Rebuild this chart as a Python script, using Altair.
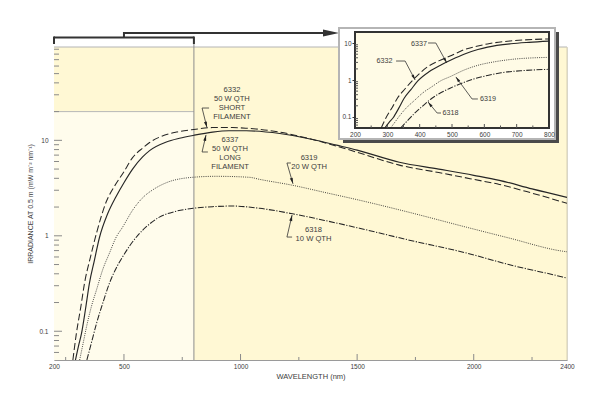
import altair as alt
import pandas as pd

# ---------------- data ----------------
nm_6332 = [281, 296, 315, 331, 355, 382, 425, 459, 500, 537, 580, 610, 660, 725, 800, 880, 966, 1025, 1168, 1309, 1412, 1500, 1681, 1850, 2000, 2110, 2250, 2400]
irr_6332 = [0.05, 0.095, 0.18, 0.32, 0.58, 1.06, 2.3, 3.3, 4.7, 6.6, 8.3, 9.5, 11.0, 12.2, 13.0, 13.6, 13.6, 13.4, 12.2, 10.2, 8.7, 7.5, 5.5, 4.6, 3.9, 3.45, 2.8, 2.19]

nm_6337 = [292, 305, 318, 335, 352, 373, 395, 430, 467, 500, 537, 580, 610, 682, 738, 800, 880, 950, 1025, 1168, 1309, 1412, 1500, 1681, 1850, 2000, 2110, 2250, 2400]
irr_6337 = [0.05, 0.07, 0.095, 0.17, 0.32, 0.55, 0.96, 1.7, 2.6, 3.6, 5.0, 6.7, 7.8, 9.6, 10.5, 11.3, 12.2, 12.6, 12.6, 11.8, 10.2, 8.9, 7.9, 5.9, 5.0, 4.3, 3.81, 3.1, 2.53]

nm_6319 = [310, 325, 339, 360, 382, 410, 438, 465, 494, 540, 580, 630, 682, 795, 896, 1038, 1082, 1224, 1360, 1510, 1724, 1969, 2150, 2381, 2400]
irr_6319 = [0.05, 0.075, 0.11, 0.18, 0.27, 0.45, 0.66, 0.95, 1.23, 1.9, 2.5, 3.1, 3.6, 4.1, 4.2, 4.1, 3.9, 3.38, 2.85, 2.36, 1.76, 1.23, 0.95, 0.69, 0.68]

nm_6318 = [341, 360, 382, 410, 438, 465, 494, 530, 567, 610, 652, 720, 796, 880, 967, 1082, 1223, 1360, 1510, 1724, 1969, 2150, 2381, 2400]
irr_6318 = [0.05, 0.075, 0.12, 0.2, 0.32, 0.45, 0.6, 0.82, 1.06, 1.33, 1.57, 1.8, 1.94, 2.02, 2.05, 1.94, 1.7, 1.45, 1.2, 0.9, 0.66, 0.5, 0.37, 0.36]

x_tick_labels = [200, 500, 1000, 1500, 2000, 2400]
x_major_ticks = [500, 1000, 1500, 2000]
x_minor_ticks = [250, 750, 1250, 1750, 2250]
y_tick_labels = [0.1, 1, 10]
y_major_ticks = [0.1, 1, 10]
y_minor_ticks = [0.06, 0.07, 0.08, 0.09, 0.2, 0.3, 0.4, 0.5, 0.6, 0.7, 0.8, 0.9,
                 2, 3, 4, 5, 6, 7, 8, 9, 20, 30, 40, 50, 60, 70, 80, 90]
y_domain = [0.05, 95]

inset_x_labels = [200, 300, 400, 500, 600, 700, 800]
inset_x_major = [300, 400, 500, 600, 700]
inset_x_minor = [250, 350, 450, 550, 650, 750]
inset_y_labels = [0.1, 1, 10]
inset_y_minor = [0.06, 0.07, 0.08, 0.09, 0.2, 0.3, 0.4, 0.5, 0.6, 0.7, 0.8, 0.9,
                 2, 3, 4, 5, 6, 7, 8, 9]

zoom_nm = [200, 800]
zoom_irr = [0.05, 20]

# main-plot annotations (data units)
main_text = ["6332", "50 W QTH", "SHORT", "FILAMENT",
             "6337", "50 W QTH", "LONG", "FILAMENT",
             "6319", "20 W QTH", "6318", "10 W QTH"]
main_text_nm = [963, 963, 963, 963, 955, 955, 955, 955, 1294, 1294, 1313, 1313]
main_text_irr = [33.7, 27.1, 21.8, 17.6, 10.1, 8.12, 6.53, 5.26, 6.53, 5.26, 1.15, 0.926]

main_lead_id = ["a", "a", "a", "b", "b", "b", "c", "c", "c", "d", "d", "d"]
main_lead_nm = [865, 835, 856, 860, 835, 852, 1216, 1199, 1225, 1221, 1199, 1221]
main_lead_irr = [21.8, 21.8, 13.6, 7.55, 7.55, 11.4, 5.79, 5.79, 3.5, 0.97, 0.97, 1.65]
main_tip_nm = [856, 852, 1225, 1221]
main_tip_irr = [13.6, 11.4, 3.5, 1.65]
main_tip_angle = [165, 13, 163, 13]

# inset annotations (inset data units)
inset_text = ["6337", "6332", "6319", "6318"]
inset_text_nm = [398, 291, 611, 495]
inset_text_irr = [9.46, 3.27, 0.306, 0.1275]
inset_lead_id = ["a", "a", "a", "b", "b", "b", "c", "c", "c", "d", "d", "d"]
inset_lead_nm = [426, 450, 484, 327, 355, 386, 580, 562, 512, 466, 454, 426]
inset_lead_irr = [10.07, 10.07, 2.89, 3.27, 3.27, 1.0, 0.306, 0.306, 1.21, 0.1275, 0.1275, 0.253]
inset_tip_nm = [484, 386, 512, 426]
inset_tip_irr = [2.89, 1.0, 1.21, 0.253]
inset_tip_angle = [151, 152, 324, 321]

# ---------------- styling ----------------
FONT = "Liberation Sans"
INK = "#262626"
TXT = "#3c3c3c"
W, H = 513, 313
ARROW = "M0,0L-0.5,2L0.5,2Z"
BIG_ARROW = "M0,0L-0.44,2L0.44,2Z"

series = [
    ("6332", nm_6332, irr_6332, [7, 3], 1.05),
    ("6337", nm_6337, irr_6337, None, 1.15),
    ("6319", nm_6319, irr_6319, [1, 1.2], 0.85),
    ("6318", nm_6318, irr_6318, [6, 1.5, 1.2, 1.5], 1.05),
]

xs = alt.Scale(domain=[200, 2400], nice=False, zero=False)
ys = alt.Scale(type="log", domain=y_domain, nice=False)
ax_x = alt.Axis(title="WAVELENGTH (nm)", values=x_tick_labels, format="d", ticks=False,
                domainColor="#9a9a9a", domainWidth=1, labelFontSize=6.5, labelColor=TXT,
                labelFont=FONT, labelPadding=3, labelFlush=False, titleFontSize=7.5,
                titleFont=FONT, titleFontWeight="normal", titleColor=TXT, titlePadding=3, grid=False)
ax_y = alt.Axis(title="IRRADIANCE AT 0.5 m (mW m\u207b\u00b2 nm\u207b\u00b9)", values=y_tick_labels,
                format="~g", ticks=False, domain=False, labelFontSize=6.5, labelColor=TXT,
                labelFont=FONT, labelPadding=6, titleFontSize=7, titleFont=FONT,
                titleFontWeight="normal", titleColor=TXT, titlePadding=5, grid=False)

xi = alt.Scale(domain=[200, 800], range=[301, 495], nice=False, zero=False)
yi = alt.Scale(type="log", domain=[0.05, 20], range=[81, -15], nice=False)
ax_xi = alt.Axis(orient="bottom", offset=-232, values=inset_x_labels, format="d", ticks=False,
                 domain=False, labelFontSize=6.5, labelColor=TXT, labelFont=FONT, labelPadding=3,
                 labelFlush=False, title=None, zindex=1, grid=False)
ax_yi = alt.Axis(orient="left", offset=-301, values=inset_y_labels, format="~g", ticks=True,
                 tickSize=3, tickColor="#333333", domain=False, labelFontSize=6.5, labelColor=TXT,
                 labelFont=FONT, labelPadding=1, title=None, zindex=1, grid=False)

dummy = pd.DataFrame({"k": [0]})


def X(scale, axis, field="nm"):
    return alt.X(f"{field}:Q", scale=scale, axis=axis)


def Y(scale, axis, field="irr"):
    return alt.Y(f"{field}:Q", scale=scale, axis=axis)


def pix_rect(x, x2, y, y2, **kw):
    return alt.Chart(dummy).mark_rect(**kw).encode(
        x=alt.value(x), x2=alt.value(x2), y=alt.value(y), y2=alt.value(y2))


# ---------------- main plot ----------------
main_parts = []

full_df = pd.DataFrame({"nm": [x_tick_labels[0]], "nm2": [x_tick_labels[-1]],
                        "irr": [y_domain[0]], "irr2": [y_domain[1]]})
main_parts.append(alt.Chart(full_df).mark_rect(color="#fff8d4").encode(
    x=X(xs, ax_x), x2="nm2:Q", y=Y(ys, ax_y), y2="irr2:Q"))

zoom_df = pd.DataFrame({"nm": [zoom_nm[0]], "nm2": [zoom_nm[1]], "irr": [zoom_irr[0]], "irr2": [zoom_irr[1]]})
main_parts.append(alt.Chart(zoom_df).mark_rect(color="#fffcec").encode(
    x=X(xs, ax_x), x2="nm2:Q", y=Y(ys, ax_y), y2="irr2:Q"))
# top line of zoom region
main_parts.append(alt.Chart(zoom_df).mark_rule(color="#b8b8b8", strokeWidth=1).encode(
    x=X(xs, ax_x), x2="nm2:Q", y=Y(ys, ax_y, "irr2")))
# plot top and right border
main_parts.append(alt.Chart(full_df).mark_rule(color="#b4b4b4", strokeWidth=1).encode(
    x=X(xs, ax_x), x2="nm2:Q", y=alt.value(0)))
main_parts.append(alt.Chart(full_df).mark_rule(color="#d6d0b4", strokeWidth=1).encode(
    x=X(xs, ax_x, "nm2"), y=alt.value(0), y2=alt.value(H)))
# vertical line at the zoom limit
z800 = pd.DataFrame({"nm": [zoom_nm[1]]})
main_parts.append(alt.Chart(z800).mark_rule(color="#8c8c8c", strokeWidth=1).encode(
    x=X(xs, ax_x), y=alt.value(-9.5), y2=alt.value(H)))

# ticks
main_parts.append(alt.Chart(pd.DataFrame({"nm": x_major_ticks})).mark_rule(color="#8a8a8a").encode(
    x=X(xs, ax_x), y=alt.value(H), y2=alt.value(H - 6)))
main_parts.append(alt.Chart(pd.DataFrame({"nm": x_minor_ticks})).mark_rule(color="#8a8a8a").encode(
    x=X(xs, ax_x), y=alt.value(H), y2=alt.value(H - 3)))
main_parts.append(alt.Chart(pd.DataFrame({"irr": y_major_ticks})).mark_rule(color="#8a8a8a").encode(
    y=Y(ys, ax_y), x=alt.value(0), x2=alt.value(8)))
main_parts.append(alt.Chart(pd.DataFrame({"irr": y_minor_ticks})).mark_rule(color="#8a8a8a").encode(
    y=Y(ys, ax_y), x=alt.value(0), x2=alt.value(5)))

# curves
for name, nms, irrs, dash, sw in series:
    kw = dict(color=INK, strokeWidth=sw, interpolate="monotone", clip=True)
    if dash:
        kw["strokeDash"] = dash
    main_parts.append(alt.Chart(pd.DataFrame({"nm": nms, "irr": irrs})).mark_line(**kw).encode(
        x=X(xs, ax_x), y=Y(ys, ax_y)))

# annotations
mt = pd.DataFrame({"label": main_text, "nm": main_text_nm, "irr": main_text_irr, "i": range(len(main_text))})
main_parts.append(alt.Chart(mt).mark_text(font=FONT, fontSize=7.6, color=TXT, align="center",
                                          baseline="middle").encode(
    x=X(xs, ax_x), y=Y(ys, ax_y), text="label:N", detail="i:O"))
ml = pd.DataFrame({"g": main_lead_id, "nm": main_lead_nm, "irr": main_lead_irr, "o": range(len(main_lead_id))})
main_parts.append(alt.Chart(ml).mark_line(color="#333333", strokeWidth=0.8).encode(
    x=X(xs, ax_x), y=Y(ys, ax_y), detail="g:N", order="o:Q"))
mtip = pd.DataFrame({"nm": main_tip_nm, "irr": main_tip_irr, "a": main_tip_angle})
main_parts.append(alt.Chart(mtip).mark_point(shape=ARROW, filled=True, size=36, color="#222222",
                                             opacity=1).encode(
    x=X(xs, ax_x), y=Y(ys, ax_y), angle=alt.Angle("a:Q", scale=None)))

# bracket and connector arrow to the inset
br = pd.DataFrame({"nm": [zoom_nm[0]], "nm2": [zoom_nm[1]]})
main_parts.append(alt.Chart(br).mark_rule(color="#333333", strokeWidth=2.2).encode(
    x=X(xs, ax_x), x2="nm2:Q", y=alt.value(-9.5)))
main_parts.append(alt.Chart(pd.DataFrame({"nm": zoom_nm})).mark_rule(color="#333333", strokeWidth=2).encode(
    x=X(xs, ax_x), y=alt.value(-10.5), y2=alt.value(-3)))
mid = pd.DataFrame({"nm": [(zoom_nm[0] + zoom_nm[1]) / 2]})
main_parts.append(alt.Chart(mid).mark_rule(color="#333333", strokeWidth=2).encode(
    x=X(xs, ax_x), y=alt.value(-9.5), y2=alt.value(-15)))
main_parts.append(alt.Chart(mid).mark_rule(color="#333333", strokeWidth=2).encode(
    x=X(xs, ax_x), x2=alt.value(277), y=alt.value(-14)))
main_parts.append(alt.Chart(dummy).mark_point(shape=BIG_ARROW, filled=True, size=256, color="#333333",
                                              opacity=1, angle=90).encode(
    x=alt.value(285), y=alt.value(-14)))

main_layer = alt.layer(*main_parts)

# ---------------- inset ----------------
inset_parts = [
    pix_rect(289, 505, -15, 96, color="#4a4a4a"),
    pix_rect(285, 501, -19, 92, fill="#ffffff", stroke="#b5b5b5", strokeWidth=2),
    pix_rect(301, 495, -15, 81, fill="#fffbe6", stroke="#333333", strokeWidth=2),
]
inset_parts.append(alt.Chart(pd.DataFrame({"nm": inset_x_major})).mark_rule(color="#555555").encode(
    x=X(xi, ax_xi), y=alt.value(81), y2=alt.value(77)))
inset_parts.append(alt.Chart(pd.DataFrame({"nm": inset_x_minor})).mark_rule(color="#555555").encode(
    x=X(xi, ax_xi), y=alt.value(81), y2=alt.value(78.5)))
inset_parts.append(alt.Chart(pd.DataFrame({"irr": inset_y_minor})).mark_rule(color="#555555").encode(
    y=Y(yi, ax_yi), x=alt.value(301), x2=alt.value(304)))

for name, nms, irrs, dash, sw in series:
    d = pd.DataFrame({"nm": nms, "irr": irrs})
    d = d[d["nm"] <= zoom_nm[1]]
    kw = dict(color=INK, strokeWidth=sw, interpolate="monotone")
    if dash:
        kw["strokeDash"] = dash
    inset_parts.append(alt.Chart(d).mark_line(**kw).encode(x=X(xi, ax_xi), y=Y(yi, ax_yi)))

it = pd.DataFrame({"label": inset_text, "nm": inset_text_nm, "irr": inset_text_irr})
inset_parts.append(alt.Chart(it).mark_text(font=FONT, fontSize=7.2, color=TXT, align="center",
                                           baseline="middle").encode(
    x=X(xi, ax_xi), y=Y(yi, ax_yi), text="label:N"))
il = pd.DataFrame({"g": inset_lead_id, "nm": inset_lead_nm, "irr": inset_lead_irr, "o": range(len(inset_lead_id))})
inset_parts.append(alt.Chart(il).mark_line(color="#333333", strokeWidth=0.8).encode(
    x=X(xi, ax_xi), y=Y(yi, ax_yi), detail="g:N", order="o:Q"))
itip = pd.DataFrame({"nm": inset_tip_nm, "irr": inset_tip_irr, "a": inset_tip_angle})
inset_parts.append(alt.Chart(itip).mark_point(shape=ARROW, filled=True, size=30, color="#222222",
                                              opacity=1).encode(
    x=X(xi, ax_xi), y=Y(yi, ax_yi), angle=alt.Angle("a:Q", scale=None)))

inset_layer = alt.layer(*inset_parts)

chart = alt.layer(main_layer, inset_layer).resolve_scale(
    x="independent", y="independent").resolve_axis(
    x="independent", y="independent").properties(
    width=W, height=H,
    autosize=alt.AutoSizeParams(type="none"),
    padding={"left": 46, "top": 39, "right": 25, "bottom": 28},
).configure_view(stroke=None).configure(background="#ffffff")

chart.save("out.html", embed_options={"renderer": "svg", "actions": False})
